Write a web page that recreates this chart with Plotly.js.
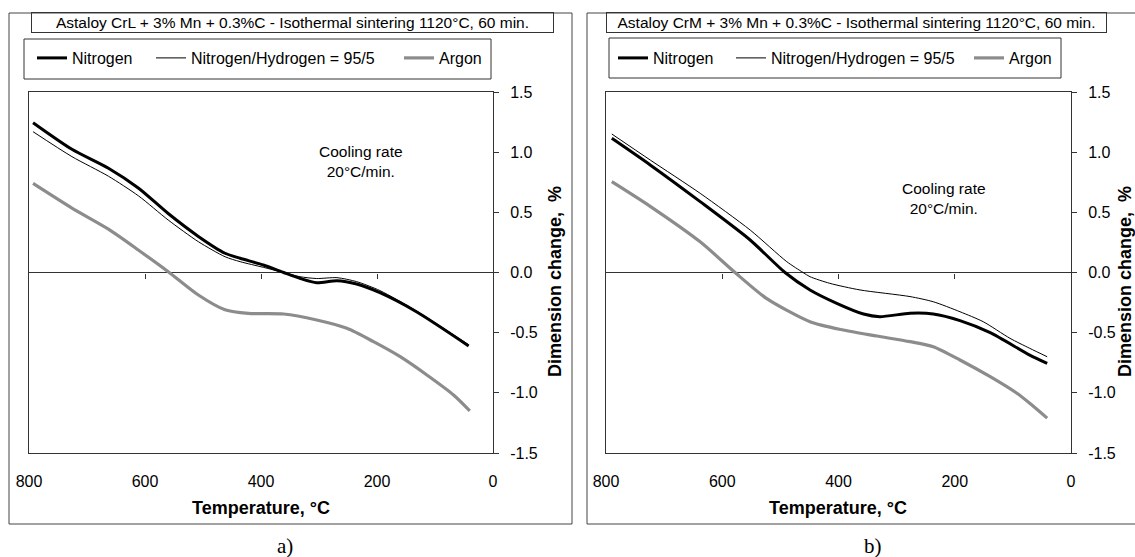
<!DOCTYPE html>
<html>
<head>
<meta charset="utf-8">
<script src="https://cdn.plot.ly/plotly-3.0.1.min.js"></script>
<style>
html,body{margin:0;padding:0;background:#fff;}
#chart{width:1135px;height:557px;}
</style>
</head>
<body>
<div id="chart"></div>
<script>
// ---------- DATA ----------
// Panel a) Astaloy CrL
const aTitle = 'Astaloy CrL + 3% Mn + 0.3%C - Isothermal sintering 1120°C, 60 min.';
const aNitrogenT = [793, 726, 663, 611, 560, 508, 462, 436, 396, 361, 333, 304, 269, 235, 195, 132, 42];
const aNitrogenV = [1.245, 1.024, 0.866, 0.70, 0.49, 0.30, 0.16, 0.118, 0.062, 0.0, -0.048, -0.085, -0.068, -0.096, -0.168, -0.326, -0.61];
const aN2H2T = [793, 726, 663, 611, 560, 508, 462, 436, 396, 361, 333, 304, 269, 235, 195, 132, 42];
const aN2H2V = [1.17, 0.963, 0.80, 0.636, 0.436, 0.256, 0.131, 0.09, 0.043, 0.0, -0.035, -0.05, -0.043, -0.076, -0.15, -0.32, -0.60];
const aArgonT = [793, 726, 663, 611, 560, 508, 462, 422, 361, 304, 252, 206, 160, 114, 68, 40];
const aArgonV = [0.74, 0.535, 0.36, 0.185, 0.007, -0.187, -0.31, -0.34, -0.345, -0.395, -0.464, -0.575, -0.70, -0.852, -1.018, -1.15];

// Panel b) Astaloy CrM
const bTitle = 'Astaloy CrM + 3% Mn + 0.3%C - Isothermal sintering 1120°C, 60 min.';
const bNitrogenT = [790, 724, 638, 552, 492, 449, 403, 357, 329, 277, 237, 191, 139, 71, 41];
const bNitrogenV = [1.115, 0.894, 0.589, 0.27, 0.0, -0.145, -0.256, -0.345, -0.367, -0.339, -0.345, -0.40, -0.50, -0.686, -0.755];
const bN2H2T = [790, 724, 638, 552, 489, 461, 449, 415, 363, 277, 237, 191, 151, 105, 71, 41];
const bN2H2V = [1.151, 0.935, 0.658, 0.353, 0.09, 0.0, -0.035, -0.09, -0.145, -0.2, -0.243, -0.326, -0.409, -0.547, -0.63, -0.70];
const bArgonT = [790, 724, 638, 578, 524, 449, 392, 334, 277, 237, 191, 139, 93, 71, 41];
const bArgonV = [0.755, 0.55, 0.255, 0.0, -0.215, -0.409, -0.478, -0.528, -0.575, -0.617, -0.727, -0.866, -1.004, -1.087, -1.21];

const seriesNames = ['Nitrogen', 'Nitrogen/Hydrogen = 95/5', 'Argon'];
const xTickVals = [800, 600, 400, 200, 0];
const xTickText = ['800', '600', '400', '200', '0'];
const yTickVals = [-1.5, -1.0, -0.5, 0, 0.5, 1.0, 1.5];
const yTickText = ['-1.5', '-1.0', '-0.5', '0.0', '0.5', '1.0', '1.5'];
const xTitle = 'Temperature, °C';
const yTitle = 'Dimension change,\u00a0 %';
const noteText = 'Cooling rate<br>20°C/min.';
const panelLabels = ['a)', 'b)'];

// ---------- LAYOUT HELPERS ----------
const W = 1135, H = 557;
const fx = v => v / W;
const fy = v => 1 - v / H;
const FONT = 'Liberation Sans, Arial, sans-serif';
const AX = '#333';

const styleN = {color: '#000', width: 3, shape: 'spline', smoothing: 0.7};
const styleH = {color: '#000', width: 1, shape: 'spline', smoothing: 0.7};
const styleA = {color: '#8c8c8c', width: 3.2, shape: 'spline', smoothing: 0.7};

const traces = [
  {x: aNitrogenT, y: aNitrogenV, name: seriesNames[0], mode: 'lines', line: styleN, xaxis: 'x', yaxis: 'y', legend: 'legend'},
  {x: aN2H2T, y: aN2H2V, name: seriesNames[1], mode: 'lines', line: styleH, xaxis: 'x', yaxis: 'y', legend: 'legend2'},
  {x: aArgonT, y: aArgonV, name: seriesNames[2], mode: 'lines', line: styleA, xaxis: 'x2', yaxis: 'y', legend: 'legend3'},
  {x: bNitrogenT, y: bNitrogenV, name: seriesNames[0], mode: 'lines', line: styleN, xaxis: 'x3', yaxis: 'y3', legend: 'legend4'},
  {x: bN2H2T, y: bN2H2V, name: seriesNames[1], mode: 'lines', line: styleH, xaxis: 'x3', yaxis: 'y3', legend: 'legend5'},
  {x: bArgonT, y: bArgonV, name: seriesNames[2], mode: 'lines', line: styleA, xaxis: 'x4', yaxis: 'y3', legend: 'legend6'}
];

const yDom = [fy(453), fy(92)];
const zeroPos = (yDom[0] + yDom[1]) / 2;

function mainX(dom, anchor) {
  return {
    domain: dom, anchor: anchor, range: [800, 0], autorange: false,
    showline: true, mirror: true, linecolor: AX, linewidth: 1,
    ticks: '', tickvals: xTickVals, ticktext: xTickText,
    ticklabelstandoff: 14,
    showgrid: false, zeroline: false,
    tickfont: {family: FONT, size: 16, color: '#000'}
  };
}
function zeroX(over) {
  return {
    overlaying: over, anchor: 'free', position: zeroPos, range: [800, 0], autorange: false,
    showline: false, ticks: 'outside', ticklen: 5, tickcolor: AX, tickwidth: 1,
    tickvals: [600, 400, 200], showticklabels: false, showgrid: false, zeroline: false, side: 'bottom'
  };
}
function mainY(anchor) {
  return {
    domain: yDom, anchor: anchor, side: 'right', range: [-1.5, 1.5], autorange: false,
    showline: true, mirror: true, linecolor: AX, linewidth: 1,
    ticks: 'outside', ticklen: 5, tickcolor: AX,
    tickvals: yTickVals, ticktext: yTickText, ticklabelstandoff: 8,
    showgrid: false, zeroline: true, zerolinecolor: AX, zerolinewidth: 1,
    tickfont: {family: FONT, size: 16, color: '#000'}
  };
}
function legendCfg(x) {
  return {
    orientation: 'h', x: fx(x), y: fy(41), xanchor: 'left', yanchor: 'top',
    borderwidth: 0, bgcolor: 'rgba(0,0,0,0)',
    font: {family: FONT, size: 16, color: '#000'},
    itemclick: false, itemdoubleclick: false
  };
}
function titleBox(text, cx, w) {
  return {
    text: text, xref: 'paper', yref: 'paper', x: fx(cx), y: fy(23),
    xanchor: 'center', yanchor: 'middle', showarrow: false,
    bordercolor: AX, borderwidth: 1, borderpad: 1, width: w, height: 17,
    font: {family: FONT, size: 15.5, color: '#000'}
  };
}
function txt(text, cx, cy, size, extra) {
  return Object.assign({
    text: text, xref: 'paper', yref: 'paper', x: fx(cx), y: fy(cy),
    xanchor: 'center', yanchor: 'middle', showarrow: false, align: 'center',
    font: {family: FONT, size: size, color: '#000'}
  }, extra || {});
}
const boldFont = {family: FONT, size: 18, weight: 'bold', color: '#000'};
const serifFont = {family: 'Liberation Serif, Times New Roman, serif', size: 21, color: '#000'};

const layout = {
  width: W, height: H,
  margin: {l: 0, r: 0, t: 0, b: 0},
  paper_bgcolor: '#fff', plot_bgcolor: '#fff',
  font: {family: FONT, color: '#000'},
  showlegend: true,
  xaxis: mainX([fx(29), fx(493)], 'y'),
  xaxis2: zeroX('x'),
  yaxis: mainY('x'),
  xaxis3: mainX([fx(606), fx(1071)], 'y3'),
  xaxis4: zeroX('x3'),
  yaxis3: mainY('x3'),
  legend: legendCfg(32),
  legend2: legendCfg(151),
  legend3: legendCfg(399),
  legend4: legendCfg(613),
  legend5: legendCfg(731),
  legend6: legendCfg(969),
  annotations: [
    titleBox(aTitle, 292.7, 519),
    titleBox(bTitle, 856, 497),
    txt(noteText, 361, 162, 15.5),
    txt(noteText, 944, 198, 15.5),
    txt(xTitle, 261, 508, 18, {font: boldFont}),
    txt(xTitle, 838.5, 508, 18, {font: boldFont}),
    txt(yTitle, 555, 282, 18, {font: boldFont, textangle: -90}),
    txt(yTitle, 1125, 282, 18, {font: boldFont, textangle: -90}),
    txt(panelLabels[0], 285, 546, 21, {font: serifFont}),
    txt(panelLabels[1], 873, 546, 21, {font: serifFont})
  ],
  shapes: [
    {type: 'rect', xref: 'paper', yref: 'paper', x0: fx(9), x1: fx(572), y0: fy(524), y1: fy(13), line: {color: '#444', width: 1}},
    {type: 'rect', xref: 'paper', yref: 'paper', x0: fx(587), x1: fx(1145), y0: fy(524), y1: fy(13), line: {color: '#444', width: 1}},
    {type: 'rect', xref: 'paper', yref: 'paper', x0: fx(24), x1: fx(491), y0: fy(79), y1: fy(39), line: {color: AX, width: 1}},
    {type: 'rect', xref: 'paper', yref: 'paper', x0: fx(609), x1: fx(1061), y0: fy(78), y1: fy(38), line: {color: AX, width: 1}}
  ]
};

Plotly.newPlot('chart', traces, layout, {staticPlot: true, displayModeBar: false});
</script>
</body>
</html>
